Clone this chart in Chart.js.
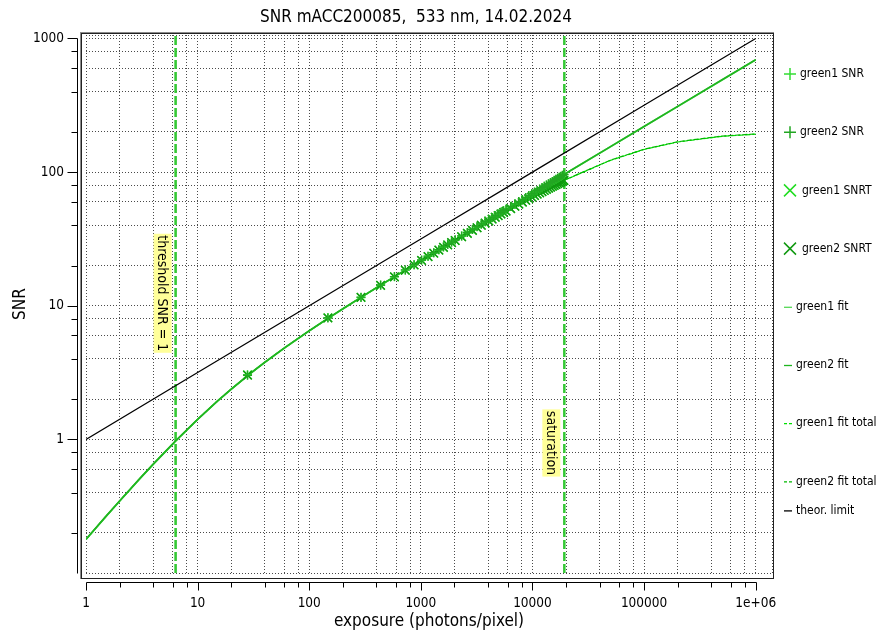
<!DOCTYPE html>
<html><head><meta charset="utf-8">
<script src="https://cdn.jsdelivr.net/npm/chart.js@4.4.1/dist/chart.umd.min.js"></script>
<style>html,body{margin:0;padding:0;background:#fff;}canvas{display:block;}</style>
</head><body>
<canvas id="c" width="878" height="634"></canvas>
<script>
// ---------- text ----------
const chartTitle = 'SNR mACC200085,  533 nm, 14.02.2024';
const xAxisTitle = 'exposure (photons/pixel)';
const yAxisTitle = 'SNR';
const thresholdLabel = 'threshold SNR = 1';
const saturationLabel = 'saturation';

// ---------- axes ----------
const xMajorTicks = [1, 10, 100, 1000, 10000, 100000, 1000000];
const xTickLabels = ['1', '10', '100', '1000', '10000', '100000', '1e+06'];
const yMajorTicks = [0.1, 1, 10, 100, 1000];
const yTickLabels = ['', '1', '10', '100', '1000'];
const minorSteps = [2, 4, 6, 8];
const xRange = [1, 1.4e6];
const yRange = [0.1, 1062];

// ---------- vertical markers ----------
const thresholdExposure = 6.35;
const saturationExposure = 19300;
const thresholdLabelSnr = 12.4;
const saturationLabelSnr = 0.94;

// ---------- measured points ----------
const exposure = [28, 147, 291, 436, 580, 726, 870, 1015, 1160, 1305,
  1450, 1595, 1740, 1885, 2030, 2320, 2610, 2900, 3190, 3480,
  3770, 4060, 4350, 4640, 4930, 5220, 5510, 5800, 6380, 6960,
  7540, 8120, 8700, 9280, 9860, 10440, 11020, 11600, 12180, 12760,
  13340, 13920, 14500, 15080, 15660, 16240, 16820, 17400, 17980, 18560, 19140];
const green1Snr = [3.05, 8.15, 11.54, 14.24, 16.49, 18.49, 20.27, 21.92, 23.45, 24.89,
  26.25, 27.55, 28.78, 29.97, 31.11, 33.27, 35.30, 37.22, 39.05, 40.79,
  42.46, 44.07, 45.62, 47.12, 48.58, 49.99, 51.36, 52.70, 55.28, 57.74,
  60.10, 62.38, 64.57, 66.69, 68.75, 70.74, 72.68, 74.57, 76.42, 78.22,
  79.98, 81.70, 83.39, 85.04, 86.66, 88.25, 89.82, 91.35, 92.86, 94.35, 95.81];
const green2Snr = [3.02, 8.10, 11.60, 14.30, 16.52, 18.55, 20.31, 21.98, 23.50, 24.95,
  26.30, 27.60, 28.84, 30.02, 31.17, 33.33, 35.37, 37.28, 39.12, 40.86,
  42.53, 44.15, 45.70, 47.20, 48.66, 50.08, 51.45, 52.80, 55.38, 57.84,
  60.21, 62.49, 64.69, 66.81, 68.88, 70.87, 72.82, 74.71, 76.56, 78.37,
  80.13, 81.86, 83.55, 85.21, 86.83, 88.43, 90.00, 91.54, 93.05, 94.55, 96.02];
const green1Snrt = [3.05, 8.12, 11.52, 14.20, 16.43, 18.41, 20.17, 21.79, 23.29, 24.70,
  26.03, 27.29, 28.49, 29.64, 30.74, 32.82, 34.76, 36.59, 38.32, 39.97,
  41.53, 43.04, 44.48, 45.87, 47.20, 48.50, 49.75, 50.96, 53.28, 55.48,
  57.56, 59.55, 61.45, 63.27, 65.01, 66.69, 68.31, 69.87, 71.38, 72.85,
  74.26, 75.63, 76.97, 78.26, 79.52, 80.74, 81.93, 83.10, 84.23, 85.33, 86.41];
const green2Snrt = [3.02, 8.10, 11.58, 14.26, 16.47, 18.47, 20.22, 21.85, 23.34, 24.76,
  26.09, 27.35, 28.55, 29.70, 30.80, 32.88, 34.83, 36.66, 38.39, 40.04,
  41.61, 43.12, 44.56, 45.95, 47.29, 48.59, 49.84, 51.06, 53.38, 55.58,
  57.67, 59.66, 61.57, 63.39, 65.14, 66.82, 68.45, 70.01, 71.53, 73.00,
  74.42, 75.79, 77.14, 78.43, 79.70, 80.92, 82.12, 83.29, 84.43, 85.54, 86.62];

// ---------- fitted curves ----------
const fitExposure = [1, 1.5, 2, 3, 4, 6.35, 10, 15, 20, 30, 40, 60, 100, 150, 200, 300, 400, 600,
  1000, 2000, 4000, 10000, 20000, 50000, 100000, 200000, 500000, 1000000];
const green1Fit = [0.178, 0.263, 0.345, 0.502, 0.650, 0.971, 1.409, 1.924, 2.371, 3.128, 3.765, 4.827,
  6.484, 8.111, 9.468, 11.73, 13.62, 16.77, 21.76, 30.88, 43.74, 69.23, 97.94, 154.9, 219.1, 309.8, 489.9, 692.8];
const green2Fit = [0.179, 0.264, 0.346, 0.504, 0.653, 0.975, 1.414, 1.930, 2.378, 3.137, 3.776, 4.840,
  6.500, 8.130, 9.490, 11.75, 13.65, 16.81, 21.80, 30.93, 43.82, 69.35, 98.11, 155.2, 219.5, 310.4, 490.8, 694.0];
const green1FitTotal = [0.178, 0.263, 0.345, 0.502, 0.650, 0.971, 1.409, 1.924, 2.371, 3.128, 3.765, 4.827,
  6.484, 8.111, 9.467, 11.72, 13.61, 16.72, 21.63, 30.51, 42.73, 65.42, 87.96, 122.5, 147.7, 168.0, 185.2, 192.2];
const green2FitTotal = [0.179, 0.264, 0.346, 0.504, 0.653, 0.975, 1.414, 1.930, 2.378, 3.137, 3.776, 4.840,
  6.500, 8.129, 9.489, 11.74, 13.64, 16.76, 21.67, 30.56, 42.80, 65.55, 88.20, 122.9, 148.3, 168.8, 186.1, 193.1];

// ---------- theoretical limit ----------
const theorExposure = [1, 10, 100, 1000, 10000, 100000, 1000000];
const theorSnr = [1, 3.162, 10, 31.62, 100, 316.2, 1000];

// ================= build =================
const FONT = '"DejaVu Sans Condensed", "DejaVu Sans", sans-serif';
const pts = (xs, ys) => xs.map((x, i) => ({x: x, y: ys[i]}));

function buildTicks(majors, extraMax) {
  const t = [];
  majors.forEach((m, i) => {
    t.push(m);
    if (i < majors.length - 1) minorSteps.forEach(s => t.push(m * s));
  });
  t.push(extraMax);
  return t;
}
const xTicks = buildTicks(xMajorTicks, xRange[1]);
const yTicks = buildTicks(yMajorTicks, yRange[1]);
function labelOf(v, majors, labels) {
  for (let i = 0; i < majors.length; i++) if (Math.abs(v / majors[i] - 1) < 1e-6) return labels[i];
  return '';
}
const isMajor = (v, majors) => majors.some(m => Math.abs(v / m - 1) < 1e-6);

const datasets = [
  {label: 'green1 SNR', data: pts(exposure, green1Snr), showLine: false, pointStyle: 'cross', pointRadius: 4.5,
   borderColor: '#33dd33', backgroundColor: '#33dd33', borderWidth: 1.4, order: 1, kind: 'plus'},
  {label: 'green2 SNR', data: pts(exposure, green2Snr), showLine: false, pointStyle: 'cross', pointRadius: 4.5,
   borderColor: '#22a622', backgroundColor: '#22a622', borderWidth: 1.4, order: 0, kind: 'plus'},
  {label: 'green1 SNRT', data: pts(exposure, green1Snrt), showLine: false, pointStyle: 'crossRot', pointRadius: 6,
   borderColor: '#22dd22', backgroundColor: '#22dd22', borderWidth: 1.4, order: 3, kind: 'x'},
  {label: 'green2 SNRT', data: pts(exposure, green2Snrt), showLine: false, pointStyle: 'crossRot', pointRadius: 6,
   borderColor: '#119911', backgroundColor: '#119911', borderWidth: 1.4, order: 2, kind: 'x'},
  {label: 'green1 fit', data: pts(fitExposure, green1Fit), showLine: true, pointRadius: 0,
   borderColor: '#55d855', borderWidth: 1.7, order: 6, kind: 'line'},
  {label: 'green2 fit', data: pts(fitExposure, green2Fit), showLine: true, pointRadius: 0,
   borderColor: '#1fb51f', borderWidth: 1.7, order: 5, kind: 'line'},
  {label: 'green1 fit total', data: pts(fitExposure, green1FitTotal), showLine: true, pointRadius: 0,
   borderColor: '#00e000', borderWidth: 1.2, borderDash: [5, 2], order: 8, kind: 'line'},
  {label: 'green2 fit total', data: pts(fitExposure, green2FitTotal), showLine: true, pointRadius: 0,
   borderColor: '#00b800', borderWidth: 1.2, borderDash: [5, 2], borderDashOffset: 3, order: 7, kind: 'line'},
  {label: 'theor. limit', data: pts(theorExposure, theorSnr), showLine: true, pointRadius: 0,
   borderColor: '#000000', borderWidth: 1.25, order: 9, kind: 'line'},
  {label: '', data: pts([thresholdExposure, thresholdExposure], yRange), showLine: true, pointRadius: 0,
   borderColor: '#33cc33', borderWidth: 2, borderDash: [9, 3], order: 10, noLegend: true},
  {label: '', data: pts([thresholdExposure, thresholdExposure], yRange), showLine: true, pointRadius: 0,
   borderColor: '#1fa81f', borderWidth: 2, borderDash: [9, 3], order: 10, noLegend: true},
  {label: '', data: pts([saturationExposure, saturationExposure], yRange), showLine: true, pointRadius: 0,
   borderColor: '#33cc33', borderWidth: 2, borderDash: [9, 3], order: 10, noLegend: true},
  {label: '', data: pts([saturationExposure, saturationExposure], yRange), showLine: true, pointRadius: 0,
   borderColor: '#1fa81f', borderWidth: 2, borderDash: [9, 3], order: 10, noLegend: true}
];

const decorPlugin = {
  id: 'decor',
  afterDatasetsDraw(chart) {
    const ctx = chart.ctx, xs = chart.scales.x, ys = chart.scales.y;
    function vLabel(text, xRight, yCenter) {
      ctx.save();
      ctx.font = '14px ' + FONT;
      const w = ctx.measureText(text).width;
      const bw = 18, bh = w + 3;
      ctx.translate(xRight - bw / 2, yCenter);
      ctx.rotate(Math.PI / 2);
      ctx.fillStyle = '#ffff99';
      ctx.fillRect(-bh / 2, -bw / 2, bh, bw);
      ctx.fillStyle = '#000';
      ctx.textAlign = 'center';
      ctx.textBaseline = 'middle';
      ctx.fillText(text, 0, 1);
      ctx.restore();
    }
    vLabel(thresholdLabel, xs.getPixelForValue(thresholdExposure) - 4, ys.getPixelForValue(thresholdLabelSnr));
    vLabel(saturationLabel, xs.getPixelForValue(saturationExposure) - 4, ys.getPixelForValue(saturationLabelSnr));
  },
  afterDraw(chart) {
    const ctx = chart.ctx, xs = chart.scales.x, ys = chart.scales.y;
    ctx.save();
    // frame
    ctx.strokeStyle = '#8a8a8a'; ctx.lineWidth = 1;
    ctx.strokeRect(80.5, 32.5, 693, 546);
    ctx.strokeStyle = '#222'; ctx.lineWidth = 1;
    ctx.strokeRect(81.5, 33.5, 692, 545);
    // y axis
    ctx.strokeStyle = '#000'; ctx.lineWidth = 1;
    const ax = 77.5;
    ctx.beginPath();
    ctx.moveTo(ax, Math.round(ys.getPixelForValue(1000)) + 0.5);
    ctx.lineTo(ax, Math.round(ys.getPixelForValue(yRange[0])) + 0.5);
    yTicks.forEach(v => {
      if (v <= yRange[0] * 1.0001 || v > 1000 * 1.0001) return;
      const y = Math.round(ys.getPixelForValue(v)) + 0.5;
      ctx.moveTo(ax, y); ctx.lineTo(ax - (isMajor(v, yMajorTicks) ? 10 : 6), y);
    });
    ctx.stroke();
    // x axis
    const ay = 582.5;
    ctx.beginPath();
    ctx.moveTo(Math.round(xs.getPixelForValue(1)) + 0.5, ay);
    ctx.lineTo(Math.round(xs.getPixelForValue(1e6)) + 0.5, ay);
    xTicks.forEach(v => {
      if (v > 1e6 * 1.0001) return;
      const x = Math.round(xs.getPixelForValue(v)) + 0.5;
      ctx.moveTo(x, ay); ctx.lineTo(x, ay + (isMajor(v, xMajorTicks) ? 8 : 5));
    });
    ctx.stroke();
    // title
    ctx.fillStyle = '#000';
    ctx.font = '17px ' + FONT;
    ctx.textAlign = 'center';
    ctx.textBaseline = 'middle';
    ctx.fillText(chartTitle, 416, 18);
    // legend
    ctx.font = '12px ' + FONT;
    ctx.textAlign = 'left';
    let ly = 74;
    const items = chart.data.datasets.filter(d => !d.noLegend);
    items.forEach((d, i) => {
      if (i > 0) ly += (i === items.length - 1) ? 29 : 58.2;
      ctx.strokeStyle = d.borderColor;
      ctx.lineWidth = 1.5;
      ctx.setLineDash([]);
      ctx.beginPath();
      let tx;
      if (d.kind === 'plus') {
        ctx.moveTo(784, ly); ctx.lineTo(796, ly);
        ctx.moveTo(790, ly - 6); ctx.lineTo(790, ly + 6);
        tx = 800;
      } else if (d.kind === 'x') {
        ctx.moveTo(784, ly - 6); ctx.lineTo(796, ly + 6);
        ctx.moveTo(784, ly + 6); ctx.lineTo(796, ly - 6);
        tx = 802;
      } else {
        ctx.lineWidth = 1.3;
        ctx.setLineDash(d.borderDash ? [3, 2] : []);
        ctx.moveTo(784, ly + 0.5); ctx.lineTo(792, ly + 0.5);
        tx = 796;
      }
      ctx.stroke();
      ctx.setLineDash([]);
      ctx.fillStyle = '#000';
      ctx.fillText(d.label, tx, ly);
    });
    ctx.restore();
  }
};

new Chart(document.getElementById('c'), {
  type: 'scatter',
  data: {datasets: datasets},
  options: {
    responsive: false,
    animation: false,
    devicePixelRatio: 1,
    layout: {padding: {top: 35, right: 106, bottom: 0, left: 0}},
    plugins: {legend: {display: false}, title: {display: false}, tooltip: {enabled: false}},
    scales: {
      x: {
        type: 'logarithmic', min: xRange[0], max: xRange[1],
        afterBuildTicks: s => { s.ticks = xTicks.map(v => ({value: v})); },
        afterFit: s => { s.height = 61; },
        ticks: {autoSkip: false, maxRotation: 0, minRotation: 0, padding: 22, color: '#000',
                font: {family: FONT, size: 13.5},
                callback: v => labelOf(v, xMajorTicks, xTickLabels)},
        grid: {color: '#4a4a4a', lineWidth: 1, drawTicks: false, borderDash: [1, 2]},
        border: {display: false, dash: [1, 2]},
        title: {display: true, text: xAxisTitle, color: '#000', font: {family: FONT, size: 17},
                padding: {top: 0, bottom: 2}}
      },
      y: {
        type: 'logarithmic', min: yRange[0], max: yRange[1],
        afterBuildTicks: s => { s.ticks = yTicks.map(v => ({value: v})); },
        afterFit: s => { s.width = 86; },
        ticks: {autoSkip: false, padding: 22, color: '#000',
                font: {family: FONT, size: 13.5},
                callback: v => labelOf(v, yMajorTicks, yTickLabels)},
        grid: {color: '#4a4a4a', lineWidth: 1, drawTicks: false, borderDash: [1, 2]},
        border: {display: false, dash: [1, 2]},
        title: {display: true, text: yAxisTitle, color: '#000', font: {family: FONT, size: 17},
                padding: {top: 10, bottom: 0}}
      }
    }
  },
  plugins: [decorPlugin]
});
</script>
</body></html>
